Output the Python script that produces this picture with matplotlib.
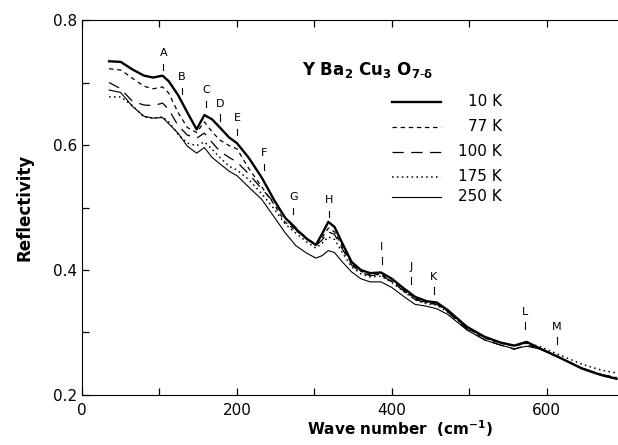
import matplotlib
matplotlib.use("Agg")
import matplotlib.pyplot as plt
from matplotlib.ticker import MultipleLocator

plt.rcParams['font.family'] = ['DejaVu Sans']

# wave number grid (cm^-1)
wn = [35, 50, 65, 80, 92, 104, 112, 124, 136, 148, 158, 168, 178, 190, 200,
      215, 232, 248, 262, 276, 290, 302, 310, 318, 326, 336, 348, 360, 372,
      386, 400, 415, 430, 445, 458, 472, 497, 520, 540, 558, 574, 590, 613,
      646, 670, 690]

r10 = [0.734, 0.733, 0.721, 0.711, 0.708, 0.711, 0.702, 0.680, 0.652, 0.625,
       0.648, 0.641, 0.628, 0.612, 0.603, 0.580, 0.548, 0.512, 0.484, 0.466,
       0.450, 0.440, 0.458, 0.477, 0.469, 0.443, 0.413, 0.400, 0.395, 0.396,
       0.386, 0.371, 0.357, 0.350, 0.348, 0.336, 0.309, 0.293, 0.284, 0.279,
       0.285, 0.275, 0.262, 0.242, 0.232, 0.226]
r77 = [0.722, 0.720, 0.707, 0.694, 0.690, 0.693, 0.683, 0.652, 0.628, 0.620,
       0.637, 0.621, 0.608, 0.599, 0.594, 0.563, 0.533, 0.505, 0.477, 0.463,
       0.451, 0.441, 0.452, 0.467, 0.461, 0.438, 0.410, 0.398, 0.392, 0.393,
       0.382, 0.368, 0.354, 0.348, 0.346, 0.334, 0.307, 0.291, 0.283, 0.278,
       0.283, 0.275, 0.262, 0.243, 0.233, 0.228]
r100 = [0.700, 0.690, 0.670, 0.664, 0.663, 0.667, 0.657, 0.631, 0.616, 0.611,
        0.619, 0.604, 0.590, 0.580, 0.573, 0.554, 0.530, 0.508, 0.485, 0.468,
        0.451, 0.439, 0.448, 0.461, 0.457, 0.434, 0.408, 0.396, 0.391, 0.392,
        0.381, 0.367, 0.353, 0.347, 0.345, 0.333, 0.305, 0.288, 0.280, 0.273,
        0.280, 0.275, 0.262, 0.243, 0.233, 0.228]
r175 = [0.677, 0.677, 0.663, 0.645, 0.643, 0.645, 0.637, 0.617, 0.603, 0.599,
        0.605, 0.593, 0.580, 0.566, 0.560, 0.545, 0.522, 0.498, 0.474, 0.459,
        0.445, 0.435, 0.443, 0.453, 0.449, 0.428, 0.405, 0.394, 0.389, 0.390,
        0.380, 0.366, 0.352, 0.346, 0.344, 0.333, 0.307, 0.292, 0.284, 0.279,
        0.283, 0.278, 0.266, 0.249, 0.240, 0.235]
r250 = [0.688, 0.684, 0.662, 0.646, 0.643, 0.644, 0.634, 0.619, 0.598, 0.587,
        0.596, 0.580, 0.570, 0.558, 0.551, 0.533, 0.513, 0.485, 0.460, 0.439,
        0.427, 0.419, 0.423, 0.431, 0.428, 0.413, 0.397, 0.386, 0.381, 0.381,
        0.372, 0.358, 0.345, 0.342, 0.338, 0.329, 0.304, 0.288, 0.280, 0.274,
        0.278, 0.274, 0.262, 0.242, 0.232, 0.226]

temps = ['10 K', '77 K', '100 K', '175 K', '250 K']

# feature markers A..M (position, height of letter)
peak_names = ['A', 'B', 'C', 'D', 'E', 'F', 'G', 'H', 'I', 'J', 'K', 'L', 'M']
peak_x = [105, 129, 160, 178, 200, 235, 273, 319, 387, 425, 454, 572, 613]
peak_y = [0.747, 0.709, 0.688, 0.666, 0.643, 0.587, 0.517, 0.512, 0.437,
          0.405, 0.389, 0.333, 0.309]

fig = plt.figure(figsize=(6.18, 4.45), dpi=100)
ax = fig.add_axes([0.1327, 0.1124, 0.8673, 0.8426])

styles = [dict(lw=1.7, ls='-'),
          dict(lw=0.9, ls=(0, (3.5, 3))),
          dict(lw=0.9, ls=(0, (9, 6))),
          dict(lw=1.1, ls=(0, (1, 2.2))),
          dict(lw=0.8, ls='-')]
series = [r10, r77, r100, r175, r250]
for r, st in zip(series, styles):
    ax.plot(wn, r, color='black', **st)

for n, x, y in zip(peak_names, peak_x, peak_y):
    ax.text(x, y, n, ha='center', va='center', fontsize=8)
    ax.plot([x, x], [y - 0.017, y - 0.027], color='black', lw=0.8)

ax.text(284, 0.72, r'Y Ba$_\mathbf{2}$ Cu$_\mathbf{3}$ O$_{\mathbf{7\text{-}\delta}}$',
        fontsize=12, fontweight='bold', va='center')

# hand-made legend, labels right aligned like the original
row_y = [0.782, 0.716, 0.649, 0.582, 0.529]
for (st, lab, yy) in zip(styles, temps, row_y):
    ax.plot([0.579, 0.669], [yy, yy], transform=ax.transAxes, color='black', **st)
    ax.text(0.783, yy, lab, transform=ax.transAxes, ha='right', va='center',
            fontsize=11)

ax.set_xlim(0, 692)
ax.set_ylim(0.2, 0.8)
ax.xaxis.set_major_locator(MultipleLocator(200))
ax.xaxis.set_minor_locator(MultipleLocator(100))
ax.yaxis.set_major_locator(MultipleLocator(0.2))
ax.yaxis.set_minor_locator(MultipleLocator(0.1))
ax.yaxis.set_major_formatter(plt.FuncFormatter(lambda v, p: '%.1f' % v))
ax.tick_params(which='both', direction='in', length=5, width=0.9, top=True,
               labelsize=11)
ax.tick_params(axis='x', pad=6)
ax.spines['right'].set_visible(False)

ax.set_xlabel(r'Wave number  (cm$^{\mathbf{-1}}$)', fontsize=11,
              fontweight='bold')
ax.xaxis.set_label_coords(0.593, -0.062)
ax.set_ylabel('Reflectivity', fontsize=12, fontweight='bold', labelpad=14)

fig.savefig('out.png', dpi=100)
